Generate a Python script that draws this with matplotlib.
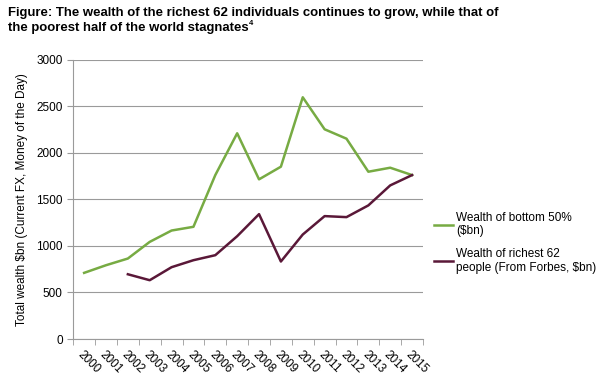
import matplotlib.pyplot as plt
import numpy as np

plt.rcParams['font.family'] = ['Liberation Sans', 'DejaVu Sans']

years = ['2000', '2001', '2002', '2003', '2004', '2005', '2006', '2007',
         '2008', '2009', '2010', '2011', '2012', '2013', '2014', '2015']
bottom_50 = [711, 793, 865, 1044, 1166, 1206, 1762, 2211,
             1716, 1852, 2598, 2254, 2153, 1798, 1841, 1762]
richest_62 = [np.nan, np.nan, 696, 632, 772, 847, 901, 1105,
              1342, 833, 1123, 1321, 1310, 1436, 1651, 1762]

green = '#77ab43'
purple = '#5a1838'
grey = '#9a9a9a'

fig = plt.figure(figsize=(6, 3.79), dpi=100)
ax = fig.add_axes([0.122, 0.1055, 0.583, 0.7365])

x = np.arange(len(years))
ax.plot(x, bottom_50, color=green, lw=1.8, label='Wealth of bottom 50%\n(\\$bn)')
ax.plot(x, richest_62, color=purple, lw=1.8,
        label='Wealth of richest 62\npeople (From Forbes, \\$bn)')

ax.set_xlim(-0.5, len(years) - 0.5)
ax.set_ylim(0, 3000)
ax.set_yticks(np.arange(0, 3001, 500))
ax.yaxis.grid(True, color=grey, lw=0.8)
ax.set_axisbelow(True)

ax.set_xticks(x)
ax.set_xticklabels(years, rotation=-45, ha='left', rotation_mode='anchor', fontsize=8.5)
ax.set_xticks(np.arange(-0.5, len(years)), minor=True)
ax.tick_params(axis='x', which='major', length=0, pad=7)
ax.tick_params(axis='x', which='minor', length=4, color=grey)
ax.tick_params(axis='y', length=4, color=grey, labelsize=8.5)

for s in ['top', 'right']:
    ax.spines[s].set_visible(False)
for s in ['left', 'bottom']:
    ax.spines[s].set_color(grey)

ax.set_ylabel('Total wealth \\$bn (Current FX, Money of the Day)', fontsize=8.5, labelpad=6)

ax.legend(loc='center left', bbox_to_anchor=(1.0, 0.345), frameon=False,
          fontsize=8.5, handlelength=1.6, handletextpad=0.3, labelspacing=0.9)

# title, two lines with a small footnote mark
fig.text(0.013, 0.958, 'Figure: The wealth of the richest 62 individuals continues to grow, while that of',
         fontsize=9.45, fontweight='bold', va='baseline', ha='left')
t2 = fig.text(0.013, 0.918, 'the poorest half of the world stagnates',
              fontsize=9.45, fontweight='bold', va='baseline', ha='left')
ax.annotate('4', xy=(1, 1), xycoords=t2, xytext=(0.5, 1.5), textcoords='offset points',
            fontsize=5.5, fontweight='bold', va='top', ha='left', annotation_clip=False)

fig.savefig('out.png', dpi=100)
